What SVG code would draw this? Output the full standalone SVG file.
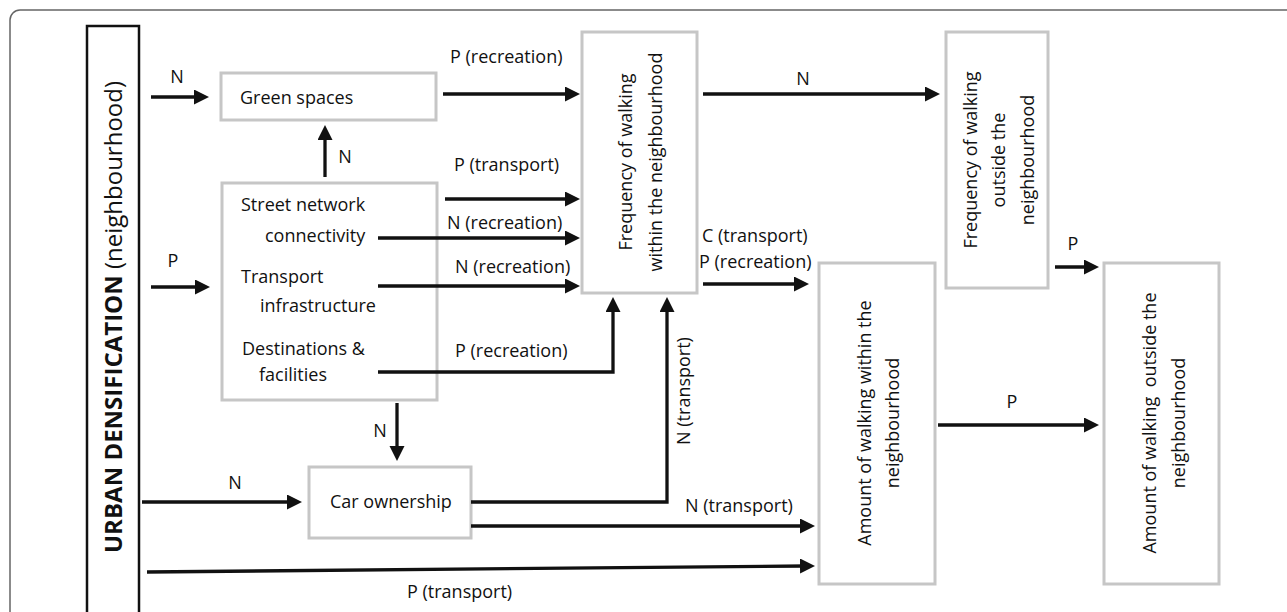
<svg xmlns="http://www.w3.org/2000/svg" width="1287" height="612" viewBox="0 0 1287 612">
<style>
.box{fill:#fff;stroke:#c6c6c6;stroke-width:3}
.t{font-family:'Open Sans','Liberation Sans',sans-serif;font-size:18px;fill:#111}
.c{fill:none;stroke:#111;stroke-width:3.3}
</style>
<defs>
<marker id="ah" markerUnits="userSpaceOnUse" markerWidth="16" markerHeight="16" refX="5" refY="7.5" orient="auto">
<path d="M0,0 L15,7.5 L0,15 z" fill="#111"/>
</marker>
</defs>
<rect x="0" y="0" width="1287" height="612" fill="#fff"/>
<rect x="10" y="10" width="1320" height="700" rx="10" fill="none" stroke="#666" stroke-width="1.5"/>

<g id="urban">
<rect x="87" y="26" width="52" height="620" fill="#fff" stroke="#111" stroke-width="2.5"/>
<text class="t" transform="translate(122,317) rotate(-90)" text-anchor="middle" style="font-size:24px"><tspan font-weight="bold">URBAN DENSIFICATION</tspan> (neighbourhood)</text>
</g>

<g id="green">
<rect class="box" x="221" y="73" width="215" height="47"/>
<text class="t" x="240" y="104">Green spaces</text>
</g>

<g id="street">
<rect class="box" x="222" y="183" width="215" height="217"/>
<text class="t" x="241" y="211">Street network</text>
<text class="t" x="265" y="242">connectivity</text>
<text class="t" x="241" y="283">Transport</text>
<text class="t" x="260" y="312">infrastructure</text>
<text class="t" x="242" y="355">Destinations &amp;</text>
<text class="t" x="259" y="381">facilities</text>
</g>

<g id="car">
<rect class="box" x="309" y="467" width="162" height="71"/>
<text class="t" x="330" y="508">Car ownership</text>
</g>

<g id="freqwithin">
<rect class="box" x="582" y="32" width="115" height="261"/>
<text class="t" transform="translate(632,162) rotate(-90)" text-anchor="middle">Frequency of walking</text>
<text class="t" transform="translate(662,162) rotate(-90)" text-anchor="middle">within the neighbourhood</text>
</g>

<g id="freqoutside">
<rect class="box" x="946" y="32" width="102" height="256"/>
<text class="t" transform="translate(977,160) rotate(-90)" text-anchor="middle">Frequency of walking</text>
<text class="t" transform="translate(1005,160) rotate(-90)" text-anchor="middle">outside the</text>
<text class="t" transform="translate(1034,160) rotate(-90)" text-anchor="middle">neighbourhood</text>
</g>

<g id="amountwithin">
<rect class="box" x="819" y="263" width="116" height="321"/>
<text class="t" transform="translate(871,423) rotate(-90)" text-anchor="middle">Amount of walking within the</text>
<text class="t" transform="translate(899,423) rotate(-90)" text-anchor="middle">neighbourhood</text>
</g>

<g id="amountoutside">
<rect class="box" x="1104" y="263" width="115" height="321"/>
<text class="t" transform="translate(1156,423) rotate(-90)" text-anchor="middle" xml:space="preserve">Amount of walking  outside the</text>
<text class="t" transform="translate(1185,423) rotate(-90)" text-anchor="middle">neighbourhood</text>
</g>

<g id="connectors">
<path class="c" d="M151,97 H199" marker-end="url(#ah)"/>
<path class="c" d="M151,287 H200" marker-end="url(#ah)"/>
<path class="c" d="M325,177 V135" marker-end="url(#ah)"/>
<path class="c" d="M443,94 H570" marker-end="url(#ah)"/>
<path class="c" d="M445,199 H570" marker-end="url(#ah)"/>
<path class="c" d="M378,238 H570" marker-end="url(#ah)"/>
<path class="c" d="M378,286 H570" marker-end="url(#ah)"/>
<path class="c" d="M378,372 H613 V307" marker-end="url(#ah)"/>
<path class="c" d="M471,502 H667 V307" marker-end="url(#ah)"/>
<path class="c" d="M471,526 H805" marker-end="url(#ah)"/>
<path class="c" d="M147,572 L805,566" marker-end="url(#ah)"/>
<path class="c" d="M142,502 H292" marker-end="url(#ah)"/>
<path class="c" d="M397,403 V451" marker-end="url(#ah)"/>
<path class="c" d="M703,94 H930" marker-end="url(#ah)"/>
<path class="c" d="M703,284 H799" marker-end="url(#ah)"/>
<path class="c" d="M1055,267 H1089" marker-end="url(#ah)"/>
<path class="c" d="M938,425 H1089" marker-end="url(#ah)"/>

<text class="t" x="177" y="83" text-anchor="middle">N</text>
<text class="t" x="173" y="267" text-anchor="middle">P</text>
<text class="t" x="345" y="163" text-anchor="middle">N</text>
<text class="t" x="450" y="63">P (recreation)</text>
<text class="t" x="454" y="171">P (transport)</text>
<text class="t" x="447" y="229">N (recreation)</text>
<text class="t" x="455" y="273">N (recreation)</text>
<text class="t" x="455" y="357">P (recreation)</text>
<text class="t" x="803" y="85" text-anchor="middle">N</text>
<text class="t" x="702" y="242">C (transport)</text>
<text class="t" x="699" y="268">P (recreation)</text>
<text class="t" x="1073" y="250" text-anchor="middle">P</text>
<text class="t" x="1012" y="408" text-anchor="middle">P</text>
<text class="t" x="685" y="512">N (transport)</text>
<text class="t" x="407" y="598">P (transport)</text>
<text class="t" x="235" y="489" text-anchor="middle">N</text>
<text class="t" x="380" y="437" text-anchor="middle">N</text>
<text class="t" transform="translate(690,391) rotate(-90)" text-anchor="middle">N (transport)</text>
</g>
</svg>
